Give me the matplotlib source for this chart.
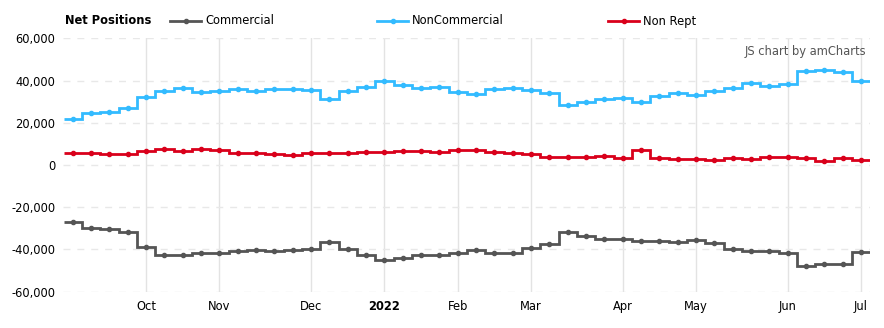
import numpy as np
import pandas as pd
import matplotlib
matplotlib.use("Agg")
import matplotlib.pyplot as plt
import matplotlib.dates as mdates
from matplotlib.lines import Line2D

plt.rcParams['font.family'] = ['DejaVu Sans']

dates = pd.date_range('2021-09-07', periods=44, freq='7D')

commercial = [-26900, -29700, -30200, -31600, -38700, -42500, -42500, -41800, -41800, -40900,
              -40400, -40900, -40400, -40000, -36600, -40000, -42500, -44900, -43900, -42500,
              -42500, -41800, -40400, -41500, -41500, -39200, -37600, -31900, -33500, -34900,
              -34900, -35900, -35900, -36300, -35700, -37100, -39700, -40900, -40900, -41800,
              -47700, -46800, -46800, -41400]
noncommercial = [21800, 24500, 25300, 26800, 32400, 35200, 36300, 34700, 35200, 35900,
                 35200, 36200, 36200, 35500, 31400, 35200, 37000, 39700, 38100, 36600,
                 37100, 34700, 33800, 35900, 36300, 35500, 34300, 28600, 30000, 31100,
                 31900, 30000, 32800, 34300, 33300, 35200, 36600, 38700, 37600, 38200,
                 44700, 45200, 43900, 39700]
nonrept = [5800, 5800, 5400, 5400, 6800, 7700, 6800, 7700, 7300, 5800,
           5800, 5400, 4900, 5500, 5500, 5500, 6000, 6000, 6500, 6500,
           6000, 7300, 7300, 6300, 5500, 5100, 3900, 3900, 3900, 4400,
           3500, 7000, 3500, 2800, 2800, 2400, 3500, 2800, 3900, 3900,
           3500, 2000, 3500, 2500]

series = [("Commercial", commercial, "#555555"),
          ("NonCommercial", noncommercial, "#33bbff"),
          ("Non Rept", nonrept, "#d9001b")]

yticks = [-60000, -40000, -20000, 0, 20000, 40000, 60000]

W, H = 884, 328
fig = plt.figure(figsize=(W / 100, H / 100), dpi=100)
ax = fig.add_axes([63.5 / W, 1 - 291.7 / H, (870.2 - 63.5) / W, (291.7 - 38.3) / H])

x = mdates.date2num(dates)
half = 3.5
edges = np.concatenate([x - half, [x[-1] + half]])

for name, vals, col in series:
    ax.stairs(vals, edges, baseline=None, color=col, linewidth=2.0, zorder=3)
    ax.plot(x, vals, linestyle='none', marker='o', markersize=3.0, color=col, zorder=4)

ax.set_xlim(edges[0], edges[-1])
ax.set_ylim(-60000, 60000)

# month ticks at first data point of each month
tick_pos, tick_lab, tick_bold = [], [], []
prev = dates[0].month
for d, xv in zip(dates, x):
    if d.month != prev:
        tick_pos.append(xv)
        if d.month == 1:
            tick_lab.append(str(d.year)); tick_bold.append(True)
        else:
            tick_lab.append(d.strftime('%b')); tick_bold.append(False)
    prev = d.month
ax.set_xticks(tick_pos)
ax.set_xticklabels(tick_lab)
for lbl, b in zip(ax.get_xticklabels(), tick_bold):
    if b:
        lbl.set_fontweight('bold')

ax.set_yticks(yticks)
ax.set_yticklabels([f"{v:,}" for v in yticks])

for s in ax.spines.values():
    s.set_visible(False)
ax.tick_params(axis='both', length=0, labelsize=8.3, colors='#000000')
ax.tick_params(axis='x', pad=6)
ax.tick_params(axis='y', pad=6)

ax.grid(axis='x', color='#e3e3e3', linewidth=1, linestyle='-', zorder=0)
ax.grid(axis='y', color='#e8e8e8', linewidth=1, linestyle=(0, (5, 5)), zorder=0)
ax.set_axisbelow(True)

# Legend row
fy = 1 - 21 / H
fig.text(65 / W, fy, "Net Positions", fontsize=8.3, fontweight='bold', va='center', ha='left')
leg_x = [170, 377, 608]
for (name, vals, col), lx in zip(series, leg_x):
    fig.add_artist(Line2D([lx / W, (lx + 31) / W], [fy, fy], color=col, linewidth=2,
                          transform=fig.transFigure))
    fig.add_artist(Line2D([(lx + 15.5) / W], [fy], color=col, marker='o', markersize=3.0,
                          linestyle='none', transform=fig.transFigure))
    fig.text((lx + 35) / W, fy, name, fontsize=8.3, va='center', ha='left', color='#000000')

fig.text(866 / W, 1 - 52 / H, "JS chart by amCharts", fontsize=8.3, color='#555555',
         ha='right', va='center')

fig.savefig("out.png", dpi=100)
